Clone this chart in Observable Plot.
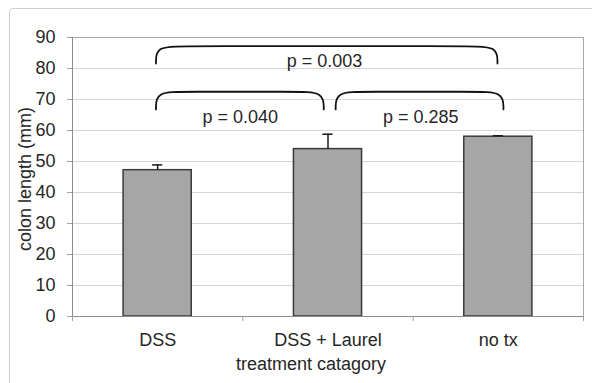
<!DOCTYPE html>
<html>
<head>
<meta charset="utf-8">
<script src="https://cdn.jsdelivr.net/npm/d3@7"></script>
<script src="https://cdn.jsdelivr.net/npm/@observablehq/plot@0.6"></script>
<style>
  html, body { margin: 0; padding: 0; background: #fff; }
  #wrap { position: relative; width: 592px; height: 383px; overflow: hidden; }
  #border { position: absolute; left: 9px; top: 8px; width: 620px; height: 420px;
            border: 1px solid #d0d0d0; border-radius: 4px; box-sizing: border-box; }
  #chart { position: absolute; left: 0; top: 0; }
</style>
</head>
<body>
<div id="wrap"><div id="border"></div><div id="chart"></div></div>
<script>
// Data
const categories = ["DSS", "DSS + Laurel", "no tx"];
const means = [47.2, 54.0, 58.0];
const errors = [1.7, 4.8, 0.3];
const yTicks = [0, 10, 20, 30, 40, 50, 60, 70, 80, 90];
const xLabel = "treatment catagory";
const yLabel = "colon length (mm)";

// Significance brackets (x in category units: 0..3, y in mm)
const bracketX0 = [0.49, 0.49, 1.545];
const bracketX1 = [2.495, 1.475, 2.53];
const bracketTop = [87.2, 72.5, 72.5];
const bracketEnd = [81.6, 66.8, 66.8];
const pLabels = ["p = 0.003", "p = 0.040", "p = 0.285"];
const pX = [1.48, 0.985, 2.045];
const pY = [82.4, 64.2, 64.2];

const bars = categories.map((c, i) => ({ cat: c, i, mean: means[i], err: errors[i] }));

const corner = 0.17;
const bracketPts = [];
bracketX0.forEach((x0, k) => {
  const x1 = bracketX1[k], t = bracketTop[k], e = bracketEnd[k];
  [[x0, e], [x0, t], [x0 + corner, t], [x1 - corner, t], [x1, t], [x1, e]]
    .forEach(([x, y]) => bracketPts.push({ id: k, x, y }));
});
const pData = pLabels.map((t, k) => ({ text: t, x: pX[k], y: pY[k] }));

const chart = Plot.plot({
  width: 592,
  height: 383,
  marginLeft: 72,
  marginRight: 9,
  marginTop: 37,
  marginBottom: 67,
  x: { domain: [0, 3] },
  y: { domain: [0, 90] },
  style: { fontFamily: "'Liberation Sans', Arial, sans-serif", fontSize: "18px", color: "#262626", background: "transparent" },
  marks: [
    Plot.gridY(yTicks.slice(1, -1), { stroke: "#d6d6d6", strokeOpacity: 1 }),
    Plot.ruleY([yTicks[yTicks.length - 1]], { stroke: "#a8a8a8" }),
    Plot.ruleX([3], { stroke: "#a8a8a8" }),
    Plot.rectY(bars, { x1: d => d.i + 0.3, x2: d => d.i + 0.7, y: "mean", fill: "#a6a6a6", stroke: "#3a3a3a", strokeWidth: 1.5 }),
    Plot.ruleX(bars, { x: d => d.i + 0.5, y1: "mean", y2: d => d.mean + d.err, stroke: "#1a1a1a", strokeWidth: 1.5 }),
    Plot.ruleY(bars, { y: d => d.mean + d.err, x1: d => d.i + 0.5 - 0.03, x2: d => d.i + 0.5 + 0.03, stroke: "#1a1a1a", strokeWidth: 1.5 }),
    Plot.ruleY([0], { stroke: "#8c8c8c" }),
    Plot.ruleX([0], { stroke: "#8c8c8c" }),
    Plot.axisY({ ticks: yTicks, tickSize: 5, tickPadding: 12, stroke: "#a0a0a0", label: null, fontSize: 18 }),
    Plot.axisX({ ticks: [0, 1, 2, 3], tickSize: 5, tickFormat: () => "", stroke: "#a0a0a0", label: null }),
    Plot.axisX({ ticks: [0.5, 1.5, 2.5], tickSize: 0, tickPadding: 17, tickFormat: d => categories[Math.floor(d)], label: null, fontSize: 18 }),
    Plot.line(bracketPts, { x: "x", y: "y", z: "id", curve: "basis", stroke: "#111", strokeWidth: 1.8 }),
    Plot.text(pData, { x: "x", y: "y", text: "text", lineAnchor: "middle", fontSize: 18, fill: "#262626" }),
    Plot.text([xLabel], { frameAnchor: "bottom", lineAnchor: "middle", textAnchor: "middle", dy: 48, dx: -17, fontSize: 18, fill: "#262626" }),
    Plot.text([yLabel], { frameAnchor: "left", rotate: -90, textAnchor: "middle", lineAnchor: "middle", dx: -47, dy: 2, fontSize: 18, fill: "#262626" })
  ]
});
document.getElementById("chart").appendChild(chart);
</script>
</body>
</html>
